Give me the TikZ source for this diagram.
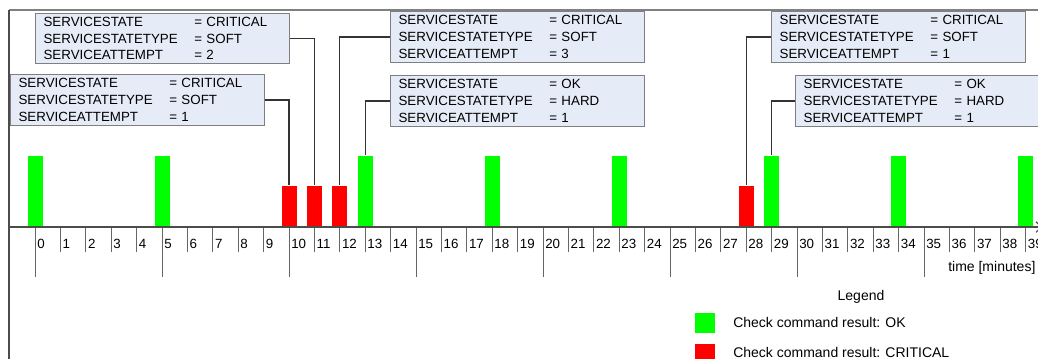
\documentclass[tikz,border=0pt]{standalone}
\usepackage{fontspec}
\setmainfont{Liberation Sans}
\usetikzlibrary{arrows.meta}
\definecolor{okgreen}{HTML}{00FF00}
\definecolor{critred}{HTML}{FF0000}
\definecolor{boxfill}{HTML}{E6ECF7}
\definecolor{boxline}{HTML}{7F7F7F}
\newcommand{\statetext}[3]{%
    \makebox[113pt][l]{SERVICESTATE}= #1\\
    \makebox[113pt][l]{SERVICESTATETYPE}= #2\\
    \makebox[113pt][l]{SERVICEATTEMPT}= #3}
\newcommand{\tickgap}{25.4}

\begin{document}
\begin{tikzpicture}[x=0.75pt, y=-0.75pt,
    statebox/.style={draw=boxline, fill=boxfill, line width=0.9pt, anchor=north west,
        text width=178.5pt, inner xsep=6pt, inner ysep=1pt, minimum height=38pt,
        align=left, font=\fontsize{10}{12.5}\selectfont},
    okbar/.style={fill=okgreen, anchor=south, inner sep=0pt, minimum width=11.25pt, minimum height=53.25pt},
    critbar/.style={fill=critred, anchor=south, inner sep=0pt, minimum width=11.25pt, minimum height=30.75pt},
    link/.style={draw=black!80, line width=1pt},
    lbl/.style={font=\fontsize{10}{12}\selectfont, inner sep=0pt}]
    \useasboundingbox (0,0) rectangle (1038,358);
    \draw[gray, line width=0.8pt] (9,10) -- (1040,10);
    \draw[black!70, line width=0.8pt] (9,10) -- (9,360);
    \foreach \m in {0,5,13,18,23,29,34,39}
        \node[okbar] (ok\m) at (35+\tickgap*\m,227) {};
    \foreach \m in {10,11,12,28}
        \node[critbar] (crit\m) at (35+\tickgap*\m,227) {};
    \foreach \i in {0,...,39}{
        \pgfmathsetmacro{\ticklen}{mod(\i,5)==0 ? 50 : 25}
        \draw[black!60, line width=0.7pt] (35+\tickgap*\i,227) -- ++(0,\ticklen);
        \node[lbl, anchor=west] (t\i) at (37+\tickgap*\i,244) {\i};
    }
    \draw[black!70, line width=0.8pt, -{Straight Barb[length=4pt]}] (9,227) -- (1042,227);
    \node[lbl, anchor=west, font=\fontsize{10.5}{12}\selectfont] (timelabel) at (948,268) {time [minutes]};
    \node[statebox] (s1) at (10,74) {\statetext{CRITICAL}{SOFT}{1}};
    \node[statebox] (s2) at (35,12.5) {\statetext{CRITICAL}{SOFT}{2}};
    \node[statebox] (s3) at (390,11) {\statetext{CRITICAL}{SOFT}{3}};
    \node[statebox] (s4) at (390,75) {\statetext{OK}{HARD}{1}};
    \node[statebox] (s5) at (771,11) {\statetext{CRITICAL}{SOFT}{1}};
    \node[statebox] (s6) at (795,75) {\statetext{OK}{HARD}{1}};
    \draw[link] (s1.east) -| (crit10.north);
    \draw[link] (s2.east) -| (crit11.north);
    \draw[link] (s3.west) -| (crit12.north);
    \draw[link] (s4.west) -| (ok13.north);
    \draw[link] (s5.west) -| (crit28.north);
    \draw[link] (s6.west) -| (ok29.north);
    \node[lbl, font=\fontsize{10.5}{12}\selectfont] (legend) at (861,297) {Legend};
    \node[okbar, anchor=north west, minimum width=15pt, minimum height=15pt] (legok) at (695,313) {};
    \node[critbar, anchor=north west, minimum width=15pt, minimum height=15pt] (legcrit) at (695,344) {};
    \node[lbl, anchor=west, font=\fontsize{10.5}{12}\selectfont] (legoktext) at (733,322) {Check command result: OK};
    \node[lbl, anchor=west, font=\fontsize{10.5}{12}\selectfont] (legcrittext) at (733,352) {Check command result: CRITICAL};
\end{tikzpicture}
\end{document}
